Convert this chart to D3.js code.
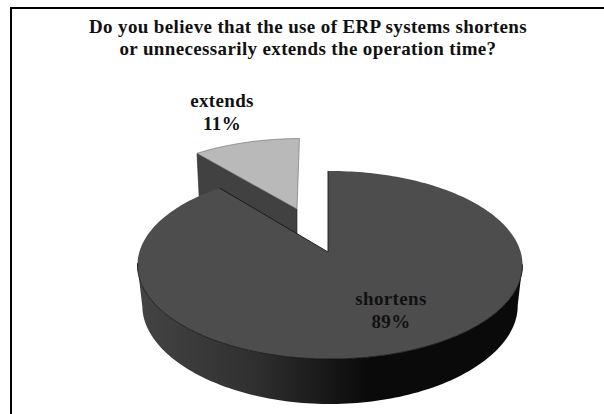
<!DOCTYPE html>
<html>
<head>
<meta charset="utf-8">
<script src="https://d3js.org/d3.v7.min.js"></script>
<style>
  html, body { margin: 0; padding: 0; background: #fff; }
  text { font-family: "Liberation Serif", serif; font-weight: bold; fill: #111; font-size: 19px; letter-spacing: 0.36px; text-anchor: middle; }
</style>
</head>
<body>
<svg id="chart" width="604" height="414"></svg>
<script>
var categories = ["shortens", "extends"];
var shares = [89, 11];
var titleLines = [
  "Do you believe that the use of ERP systems shortens",
  "or unnecessarily extends the operation time?"
];

var svg = d3.select("#chart");

// frame, open on the right and at the bottom
svg.append("path")
    .attr("d", "M11,414V8H604")
    .attr("fill", "none")
    .attr("stroke", "#000")
    .attr("stroke-width", 2);

var defs = svg.append("defs");
var wall = defs.append("linearGradient")
    .attr("id", "wall")
    .attr("gradientUnits", "userSpaceOnUse")
    .attr("x1", 137).attr("x2", 522).attr("y1", 0).attr("y2", 0);
[[0, "#444"], [0.3, "#303030"], [0.6, "#0a0a0a"], [1, "#0a0a0a"]].forEach(function(s) {
  wall.append("stop").attr("offset", s[0]).attr("stop-color", s[1]);
});

// rim ellipse and the point the big slice meets at; the apex sits above the
// ellipse centre because the original is a perspective view
var cx = 330, cy = 265, rx = 192.5, ry = 94;
var apex = {x: 328, y: 252};
var depth = 45;

var sx = d3.scaleLinear().domain([-1, 1]).range([cx - rx, cx + rx]);
var sy = d3.scaleLinear().domain([-1, 1]).range([cy - ry, cy + ry]);

var px = (apex.x - cx) / rx, py = (apex.y - cy) / ry;

// pie angle -> point on the unit rim, seen from the apex
function rim(a) {
  var dx = Math.sin(a), dy = -Math.cos(a);
  var b = px * dx + py * dy;
  var t = -b + Math.sqrt(b * b - (px * px + py * py - 1));
  return [px + t * dx, py + t * dy];
}

function rimPoints(a0, a1, n) {
  return d3.range(n + 1).map(function(i) {
    return rim(a0 + (a1 - a0) * i / n);
  });
}

var arcs = d3.pie().sort(null)(shares);
var big = arcs[0], small = arcs[1];
var line = d3.line();

var bigRim = rimPoints(big.startAngle, big.endAngle, 240).map(function(p) {
  return [sx(p[0]), sy(p[1])];
});

// small slice is pulled out towards the upper left and is a little smaller
var sApex = {x: 297, y: 209};
function smallPoint(p) {
  return [sApex.x + (sx(p[0]) - apex.x) * 0.94 + (sy(p[1]) - apex.y) * -0.03,
          sApex.y + (sy(p[1]) - apex.y) * 0.87];
}
var smallRim = rimPoints(small.startAngle, small.endAngle, 40).map(smallPoint);
var smallLeft = smallRim[0];

// cut face of the small slice, the big slice covers its lower part
svg.append("path")
    .attr("d", line([smallLeft, [sApex.x, sApex.y], [sApex.x, sApex.y + 40], [smallLeft[0] + 3, smallLeft[1] + 60]]) + "Z")
    .attr("fill", "#414141")
    .attr("stroke", "#222")
    .attr("stroke-width", 0.6);

svg.append("path")
    .attr("d", line([[sApex.x, sApex.y]].concat(smallRim)) + "Z")
    .attr("fill", "#b9b9b9")
    .attr("stroke", "#777")
    .attr("stroke-width", 0.7);

// outer wall of the big slice: front half of the rim pushed down
var front = bigRim.filter(function(p) { return p[1] >= cy - 2; });
front.sort(function(a, b) { return a[0] - b[0]; });
var lower = front.slice().reverse().map(function(p) {
  var u = (p[0] - cx) / rx;
  return [cx + (p[0] - cx) * 0.975, p[1] + depth - 4 * u * u];
});
svg.append("path")
    .attr("d", line(front.concat(lower)) + "Z")
    .attr("fill", "url(#wall)");

svg.append("path")
    .attr("d", line([[apex.x, apex.y]].concat(bigRim)) + "Z")
    .attr("fill", "#4d4d4d");

// dark edges only along the cut and the front of the rim
var edges = svg.append("g").attr("fill", "none").attr("stroke", "#161616").attr("stroke-width", 0.9);
edges.append("path").attr("d", line([bigRim[bigRim.length - 1], [apex.x, apex.y], bigRim[0]]));
edges.append("path").attr("d", line(front));

// labels
svg.selectAll(".title")
    .data(titleLines)
  .enter().append("text")
    .attr("class", "title")
    .attr("x", 308)
    .attr("y", function(d, i) { return 33 + i * 22; })
    .text(function(d) { return d; });

var labelPos = [[391, 305], [222, 107]];
categories.forEach(function(c, i) {
  var t = svg.append("text");
  t.append("tspan").attr("x", labelPos[i][0]).attr("y", labelPos[i][1]).text(c);
  t.append("tspan").attr("x", labelPos[i][0]).attr("y", labelPos[i][1] + 23).text(shares[i] + "%");
});
</script>
</body>
</html>
